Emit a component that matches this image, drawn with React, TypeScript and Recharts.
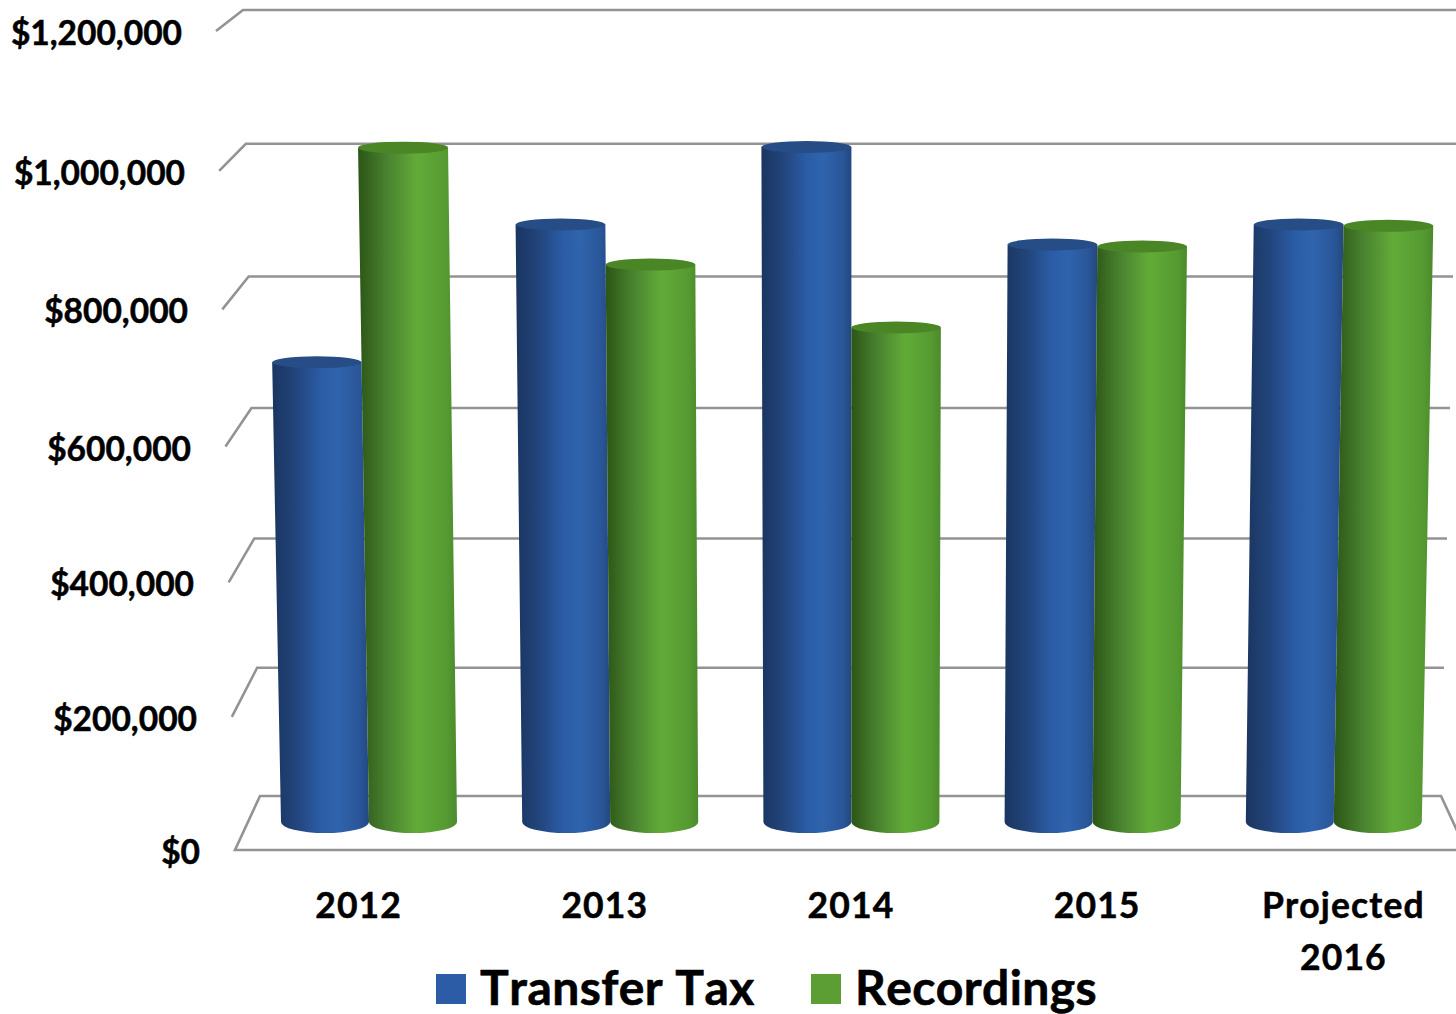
import React from "react";
import { BarChart, Bar, XAxis, YAxis, CartesianGrid, Legend } from "recharts";

const categories = ["2012", "2013", "2014", "2015", "Projected\n2016"];
const transferTax = [688000, 894000, 1010000, 864000, 894000];
const recordings = [1009000, 834000, 740000, 861000, 892000];
const yTicks = [0, 200000, 400000, 600000, 800000, 1000000, 1200000];
const yMax = 1200000;

const data = categories.map((name, i) => ({ name, transferTax: transferTax[i], recordings: recordings[i] }));

const W = 1456;
const H = 1014;
const TOP = 20;
const BASE = 822;
const LEFT = 248;
const CX = 851;
const FONT = "Lato, Carlito, sans-serif";
const BLUE = "#2c5ca6";
const GREEN = "#5c9e33";
const GRID = "#939393";

const tOf = (y: number) => (BASE - y) / (BASE - TOP);
const backY = (t: number) => 796 - 786 * t + 20 * t * (1 - t);
const frontY = (t: number) => 850 - 819 * t + 24 * t * (1 - t);
const frontX = (t: number) => 235 - 19 * t;
const backX = (t: number) => 260 - 17 * t;
const backRight = (t: number) => 1441 + 18 * t;
const persp = (x: number, t: number) => CX + (x - CX) * (1 + 0.027 * t);

const money = (v: number) => "$" + v.toLocaleString("en-US");

function GridLine(props: any) {
  const t = tOf(props.y1);
  const by = backY(t);
  const fy = frontY(t);
  const br = backRight(t);
  const pts =
    t < 0.001
      ? `${W + 10},${fy} ${frontX(t)},${fy} ${backX(t)},${by} ${br},${by} ${br + 25},${fy}`
      : `${frontX(t)},${fy} ${backX(t)},${by} ${br},${by}`;
  return <polyline key={props.index} points={pts} fill="none" stroke={GRID} strokeWidth={2.6} strokeLinejoin="miter" />;
}

function YTick(props: any) {
  const t = tOf(props.y);
  return (
    <text
      x={200 - 18 * t}
      y={frontY(t) + 14}
      textAnchor="end"
      fontFamily={FONT}
      fontWeight={700}
      fontSize={33.5}
      fill="#000"
      stroke="#000"
      strokeWidth={0.5}
    >
      {money(props.payload.value)}
    </text>
  );
}

function XTick(props: any) {
  const lines = String(props.payload.value).split("\n");
  const x = CX + (props.x - CX) * 1.0207;
  return (
    <text
      textAnchor="middle"
      fontFamily={FONT}
      fontWeight={700}
      fontSize={35.5}
      letterSpacing={1.1}
      fill="#000"
      stroke="#000"
      strokeWidth={0.5}
      style={{ fontKerning: "none" }}
    >
      {lines.map((l: string, i: number) => (
        <tspan key={l} x={x} y={918 + i * 52}>
          {l}
        </tspan>
      ))}
    </text>
  );
}

function Cylinder(props: any) {
  const { x, y, width, height, gradient, cap } = props;
  if (!height) return null;
  const t = tOf(y);
  const bl = x;
  const br = x + width;
  const tl = persp(x, t);
  const tr = persp(x + width, t);
  const rb = 11;
  const rt = 6;
  const d = `M${tl},${y} L${bl},${BASE} A${(br - bl) / 2},${rb} 0 0 0 ${br},${BASE} L${tr},${y} Z`;
  return (
    <g>
      <path d={d} fill={`url(#${gradient})`} />
      <ellipse cx={(tl + tr) / 2} cy={y} rx={(tr - tl) / 2} ry={rt} fill={cap} />
    </g>
  );
}

function LegendContent(props: any) {
  return (
    <div
      style={{
        position: "relative",
        height: 64,
        fontFamily: FONT,
        fontWeight: 700,
        fontSize: 48,
        letterSpacing: 0.4,
        fontKerning: "none",
        WebkitTextStroke: "0.6px #000",
        color: "#000",
      }}
    >
      {(props.payload || []).map((p: any, i: number) => (
        <div key={p.value} style={{ position: "absolute", left: i === 0 ? 436 : 811, top: 0, height: 64, whiteSpace: "nowrap" }}>
          <span style={{ position: "absolute", left: 0, top: 24, width: 30, height: 30, background: p.color }} />
          <span style={{ position: "absolute", left: 44, top: 9, lineHeight: "56px" }}>{p.value}</span>
        </div>
      ))}
    </div>
  );
}

export default function App() {
  return (
    <div style={{ position: "absolute", left: 0, top: 0, width: W, height: H, overflow: "hidden", background: "#fff" }}>
      <BarChart
        width={W}
        height={H}
        data={data}
        barSize={88}
        barGap={0}
        barCategoryGap={0}
        margin={{ top: TOP, right: 2, bottom: 0, left: 0 }}
      >
        <defs>
          <linearGradient id="gBlue" x1="0" y1="0" x2="1" y2="0">
            <stop offset="0" stopColor="#1a3560" />
            <stop offset="0.25" stopColor="#22457c" />
            <stop offset="0.5" stopColor="#2b5ca6" />
            <stop offset="0.68" stopColor="#2f64ad" />
            <stop offset="0.9" stopColor="#2a5699" />
            <stop offset="1" stopColor="#23487f" />
          </linearGradient>
          <linearGradient id="gGreen" x1="0" y1="0" x2="1" y2="0">
            <stop offset="0" stopColor="#2c5516" />
            <stop offset="0.3" stopColor="#4a8330" />
            <stop offset="0.6" stopColor="#62ab38" />
            <stop offset="0.9" stopColor="#559a31" />
            <stop offset="1" stopColor="#4b8a2c" />
          </linearGradient>
        </defs>
        <CartesianGrid vertical={false} horizontal={(p: any) => <GridLine {...p} />} />
        <XAxis dataKey="name" height={128} axisLine={false} tickLine={false} interval={0} tick={(p: any) => <XTick {...p} />} />
        <YAxis
          width={LEFT}
          domain={[0, yMax]}
          ticks={yTicks}
          interval={0}
          axisLine={false}
          tickLine={false}
          tick={(p: any) => <YTick {...p} />}
        />
        <Legend
          verticalAlign="bottom"
          height={64}
          itemSorter={null}
          content={(p: any) => <LegendContent {...p} />}
          wrapperStyle={{ left: 0, width: W, bottom: 0 }}
        />
        <Bar
          dataKey="transferTax"
          name="Transfer Tax"
          fill={BLUE}
          isAnimationActive={false}
          shape={(p: any) => <Cylinder {...p} gradient="gBlue" cap="#264d86" />}
        />
        <Bar
          dataKey="recordings"
          name="Recordings"
          fill={GREEN}
          isAnimationActive={false}
          shape={(p: any) => <Cylinder {...p} gradient="gGreen" cap="#4a8526" />}
        />
      </BarChart>
    </div>
  );
}
